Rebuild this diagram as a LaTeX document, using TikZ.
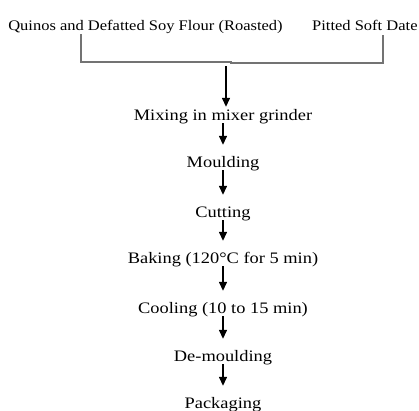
\documentclass[tikz,border=0pt]{standalone}
\usepackage{fontspec}
\setmainfont{Liberation Serif}
\newfontfamily\flowfont[FakeStretch=1.15]{Liberation Serif}
\newfontfamily\topfont[FakeStretch=1.13]{Liberation Serif}
\usetikzlibrary{arrows.meta}
\begin{document}
\begin{tikzpicture}[x=1bp,y=-1bp,
  lbl/.style={font=\flowfont\fontsize{16bp}{18bp}\selectfont, inner sep=0pt, text height=11bp, text depth=3bp, anchor=base},
  toplbl/.style={lbl, font=\topfont\fontsize{14.6bp}{17bp}\selectfont},
  bracket/.style={draw=black!55, line width=1.3bp},
  flow/.style={draw=black, line width=1.4bp, -{Triangle[width=8bp,length=9bp]}, shorten >=11bp}]
\useasboundingbox (0,0) rectangle (419,411);
\node[toplbl] (q) at (145.5,30) {Quinos and Defatted Soy Flour (Roasted)};
\node[toplbl, anchor=base west] (d) at (312,30) {Pitted Soft Date};
\node[lbl] (m1) at (223,120) {Mixing in mixer grinder};
\node[lbl] (m2) at (223,167) {Moulding};
\node[lbl] (m3) at (223,217) {Cutting};
\node[lbl] (m4) at (223,263) {Baking (120\textdegree C for 5 min)};
\node[lbl] (m5) at (223,313) {Cooling (10 to 15 min)};
\node[lbl] (m6) at (223,361) {De-moulding};
\node[lbl] (m7) at (223,408) {Packaging};
\coordinate (lt) at (81,34);
\coordinate (lb) at (81,62);
\coordinate (mid) at (231,62);
\coordinate (rb) at (383,63);
\coordinate (rt) at (383,35);
\coordinate (j) at (226,66);
\draw[bracket] (lt) -- (lb) -- (mid) -- ++(0,1) -- (rb) -- (rt);
\draw[flow, shorten >=2bp] (j) -- (j |- m1.north);
\draw[flow] (m1.south) -- (m2.north);
\draw[flow] (m2.south) -- (m3.north);
\draw[flow] (m3.south) -- (m4.north);
\draw[flow] (m4.south) -- (m5.north);
\draw[flow] (m5.south) -- (m6.north);
\draw[flow] (m6.south) -- (m7.north);
\end{tikzpicture}
\end{document}
